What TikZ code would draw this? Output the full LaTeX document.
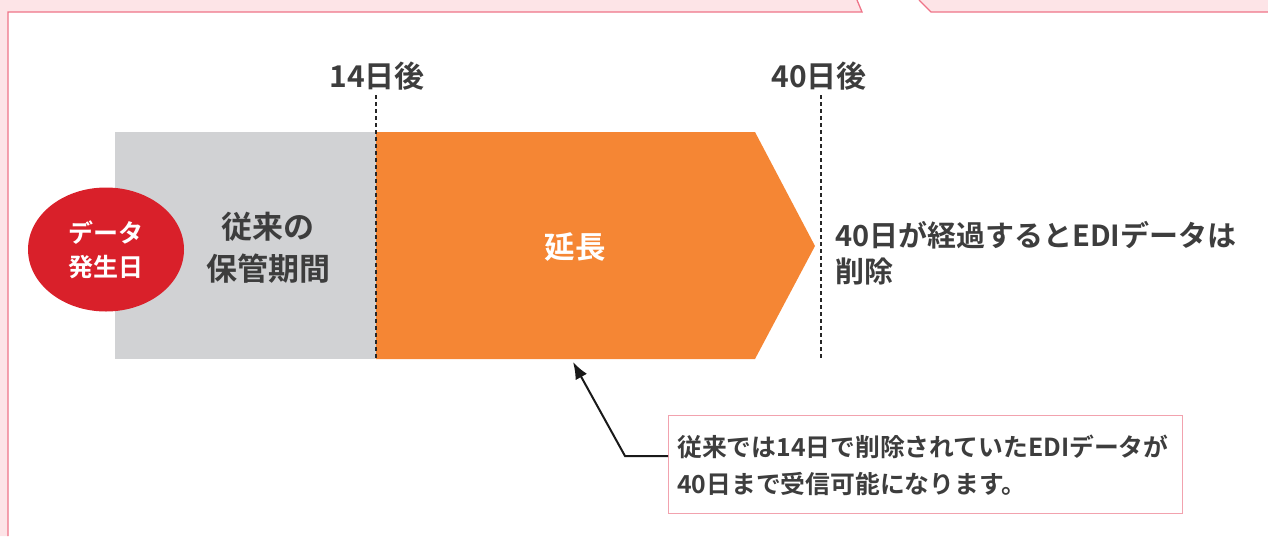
\documentclass[tikz,border=0pt]{standalone}
\usepackage{fontspec}
\newfontfamily\jpb{Noto Sans CJK JP Bold}
\usetikzlibrary{arrows.meta}
\definecolor{pinkfill}{HTML}{FDE4E7}
\definecolor{pinkline}{HTML}{EF7488}
\definecolor{boxline}{HTML}{F2A2AE}
\definecolor{graybar}{HTML}{D1D2D4}
\definecolor{orangebar}{HTML}{F58634}
\definecolor{redcirc}{HTML}{D9202A}
\definecolor{txt}{HTML}{3D3D3D}
\tikzset{
  lbl/.style={font=\jpb, text=txt, inner sep=0pt},
  dashline/.style={draw=black!85, line width=1.3pt, dash pattern=on 4pt off 3pt},
}
\begin{document}
\begin{tikzpicture}[x=1pt,y=-1pt]
\useasboundingbox (0,0) rectangle (1268,536);
% pink frame
\fill[pinkfill] (0,0) -- (857,0) -- (862,12) -- (8,12) -- (8,536) -- (0,536) -- cycle;
\fill[pinkfill] (919,0) -- (1268,0) -- (1268,12) -- (931,12) -- cycle;
\draw[pinkline, line width=1.3pt] (8,536) -- (8,12) -- (862,12) -- (857,0);
\draw[pinkline, line width=1.3pt] (919,0) -- (931,12) -- (1268,12);
% bars
\fill[graybar] (115,132) rectangle (376,359);
\fill[orangebar] (376,132) -- (755,132) -- (815,246) -- (755,359) -- (376,359) -- cycle;
% dashed markers
\coordinate (d1top) at (376,95);
\coordinate (d1bot) at (376,359);
\coordinate (d2top) at (821,95);
\coordinate (d2bot) at (821,360);
\draw[dashline] (d1top) -- (d1bot);
\draw[dashline] (d2top) -- (d2bot);
\node[lbl, font=\jpb\fontsize{30pt}{30pt}\selectfont, anchor=base] (l14) at (377,87) {14日後};
\node[lbl, font=\jpb\fontsize{30pt}{30pt}\selectfont, anchor=base] (l40) at (819,87) {40日後};
% red ellipse
\fill[redcirc] (106,249.5) ellipse [x radius=78, y radius=62];
\node[lbl, text=white, align=center, font=\jpb\fontsize{25pt}{34pt}\selectfont] (origin) at (106,250) {データ\\発生日};
\node[lbl, align=center, font=\jpb\fontsize{31pt}{42pt}\selectfont] (conv) at (268,248) {従来の\\保管期間};
\node[lbl, text=white, font=\jpb\fontsize{30.5pt}{30pt}\selectfont] (ext) at (575,247) {延長};
\node[lbl, align=left, anchor=north west, font=\jpb\fontsize{29pt}{36pt}\selectfont] (del) at (835,221) {40日が経過するとEDIデータは\\削除};
% callout
\node[draw=boxline, line width=1pt, minimum width=514pt, minimum height=98pt, anchor=north west, inner sep=0pt] (box) at (668,415) {};
\node[lbl, align=left, anchor=west, font=\jpb\fontsize{24.8pt}{37pt}\selectfont] (boxtxt) at (677,465) {従来では14日で削除されていたEDIデータが\\40日まで受信可能になります。};
\coordinate (bend) at (625,456);
\coordinate (tip) at (573,362);
\draw[black!90, line width=2pt, -{Latex[length=17pt,width=13pt]}] (box.west |- bend) -- (bend) -- (tip);
\end{tikzpicture}
\end{document}
